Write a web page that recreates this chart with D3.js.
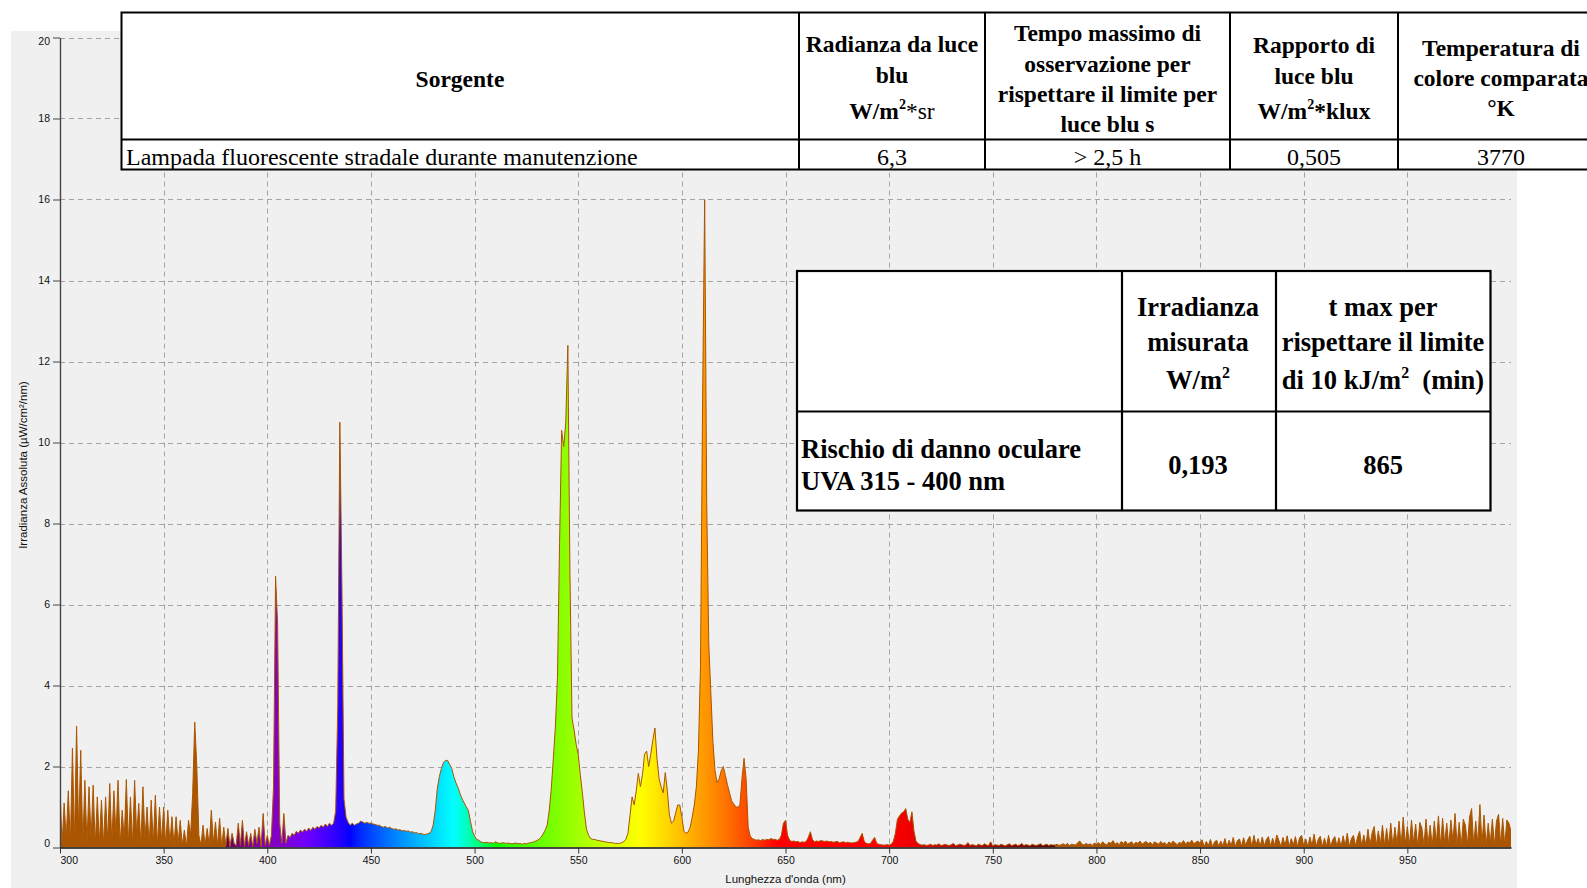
<!DOCTYPE html>
<html>
<head>
<meta charset="utf-8">
<script src="https://cdn.jsdelivr.net/npm/d3@7"></script>
<style>
  body { margin: 0; background: #fff; }
  svg { display: block; }
</style>
</head>
<body>
<svg id="chart" width="1587" height="888"></svg>
<script>
// ---- Spectral irradiance, µW/cm²/nm, 1 nm steps ----
// UV part, 300–379 nm
const uvStart = 300;
const uvBand = [
  1.45,0.05,1.1,0.2,1.4,0.1,2.45,0.15,3.0,0.4,
  2.4,0.05,1.66,0.1,1.5,0.2,1.54,0.05,1.25,0.1,
  1.17,0.05,1.25,0.15,1.58,0.1,1.4,0.3,1.66,0.05,
  0.92,0.2,1.68,0.1,1.25,0.05,1.66,0.3,1.09,0.05,
  1.5,0.2,1.0,0.05,1.17,0.1,1.29,0.05,1.0,0.15,
  1.0,0.05,0.92,0.1,0.76,0.05,0.76,0.1,0.67,0.05,
  0.43,0.02,0.67,0.3,1.33,3.1,2.0,0.3,0.05,0.55,
  0.05,0.47,0.05,0.92,0.1,0.63,0.05,0.72,0.02,0.5
];
// visible part, 380–779 nm
const visStart = 380;
const visBand = [
  0.05,0.47,0.02,0.35,0.1,0.05,0.6,0.05,0.67,0.02,
  0.39,0.05,0.35,0.02,0.45,0.1,0.5,0.02,0.84,0.05,
  0.3,0.05,0.3,1.5,6.7,5.5,0.6,0.1,0.84,0.1,
  0.3,0.25,0.35,0.3,0.4,0.35,0.43,0.38,0.45,0.4,
  0.48,0.42,0.5,0.45,0.52,0.48,0.55,0.5,0.58,0.52,
  0.6,0.55,0.6,0.9,3.5,10.5,6.5,1.2,0.75,0.62,
  0.55,0.6,0.55,0.58,0.6,0.65,0.63,0.6,0.62,0.6,
  0.6,0.58,0.57,0.55,0.55,0.52,0.5,0.52,0.48,0.5,
  0.47,0.45,0.46,0.43,0.44,0.41,0.42,0.4,0.41,0.38,
  0.39,0.36,0.37,0.34,0.35,0.33,0.32,0.33,0.35,0.39,
  0.55,0.9,1.45,1.75,1.95,2.1,2.15,2.15,2.05,1.95,
  1.75,1.6,1.48,1.33,1.2,1.1,1.0,0.92,0.65,0.4,
  0.28,0.2,0.18,0.14,0.12,0.12,0.13,0.11,0.12,0.1,
  0.14,0.12,0.1,0.11,0.12,0.1,0.11,0.1,0.09,0.1,
  0.11,0.09,0.1,0.08,0.1,0.09,0.11,0.12,0.13,0.15,
  0.17,0.2,0.25,0.33,0.42,0.55,0.9,1.45,2.2,3.0,
  4.2,7.5,10.3,9.9,10.5,12.4,6.8,3.2,2.9,2.55,
  2.3,1.8,1.35,0.85,0.45,0.3,0.22,0.2,0.2,0.18,
  0.17,0.16,0.15,0.14,0.13,0.12,0.12,0.11,0.1,0.1,
  0.1,0.12,0.15,0.2,0.35,0.8,1.25,1.05,1.4,1.83,
  1.5,1.8,2.3,2.38,2.0,2.3,2.65,2.95,2.2,1.7,
  1.5,1.35,1.85,1.4,0.8,0.6,0.65,0.85,1.05,1.05,
  0.75,0.4,0.35,0.38,0.5,0.75,1.05,1.5,2.4,4.5,
  11.0,16.0,8.5,5.0,3.8,2.6,1.9,1.6,1.7,1.9,
  2.0,1.78,1.55,1.35,1.15,1.08,1.0,1.0,1.05,1.7,
  2.2,1.7,0.5,0.28,0.22,0.2,0.18,0.19,0.17,0.2,
  0.18,0.2,0.19,0.22,0.2,0.2,0.18,0.2,0.3,0.6,
  0.67,0.3,0.18,0.15,0.16,0.14,0.15,0.12,0.14,0.13,
  0.15,0.25,0.39,0.2,0.14,0.16,0.15,0.17,0.16,0.15,
  0.16,0.14,0.15,0.13,0.14,0.15,0.12,0.13,0.14,0.12,
  0.13,0.12,0.11,0.12,0.13,0.15,0.25,0.35,0.15,0.1,
  0.09,0.1,0.18,0.25,0.1,0.08,0.07,0.06,0.06,0.07,
  0.06,0.08,0.15,0.35,0.7,0.78,0.85,0.88,0.96,0.7,
  0.62,0.88,0.4,0.15,0.1,0.07,0.06,0.07,0.05,0.06,
  0.08,0.05,0.07,0.06,0.09,0.05,0.06,0.08,0.06,0.05,
  0.07,0.1,0.05,0.06,0.08,0.07,0.05,0.06,0.12,0.05,
  0.07,0.06,0.04,0.08,0.06,0.05,0.09,0.06,0.05,0.14,
  0.04,0.07,0.06,0.05,0.08,0.06,0.04,0.07,0.09,0.05,
  0.06,0.08,0.05,0.06,0.1,0.05,0.07,0.06,0.04,0.08,
  0.06,0.05,0.07,0.09,0.05,0.06,0.08,0.05,0.07,0.06
];
// near infrared part, 780–1000 nm
const nirStart = 780;
const nirBand = [
  0.06,0.08,0.05,0.07,0.09,0.06,0.1,0.05,0.08,0.07,
  0.06,0.12,0.16,0.08,0.06,0.1,0.07,0.09,0.05,0.11,
  0.08,0.12,0.07,0.14,0.09,0.06,0.13,0.1,0.17,0.08,
  0.12,0.07,0.15,0.1,0.16,0.08,0.11,0.14,0.07,0.13,
  0.1,0.16,0.08,0.12,0.15,0.09,0.13,0.07,0.14,0.11,
  0.08,0.15,0.1,0.12,0.06,0.14,0.09,0.16,0.11,0.07,
  0.13,0.1,0.17,0.08,0.14,0.11,0.18,0.09,0.13,0.16,
  0.1,0.19,0.02,0.15,0.05,0.2,0.02,0.14,0.18,0.03,
  0.16,0.04,0.22,0.02,0.18,0.05,0.25,0.02,0.17,0.21,
  0.03,0.24,0.05,0.19,0.28,0.02,0.3,0.06,0.22,0.03,
  0.26,0.04,0.2,0.27,0.03,0.23,0.05,0.31,0.18,0.02,
  0.25,0.05,0.29,0.02,0.22,0.06,0.27,0.02,0.24,0.3,
  0.04,0.21,0.02,0.26,0.05,0.33,0.03,0.2,0.28,0.02,
  0.23,0.04,0.3,0.02,0.19,0.27,0.03,0.24,0.02,0.29,
  0.05,0.35,0.02,0.22,0.3,0.04,0.26,0.4,0.03,0.31,
  0.05,0.45,0.06,0.36,0.52,0.04,0.41,0.08,0.55,0.05,
  0.47,0.06,0.6,0.03,0.5,0.1,0.65,0.05,0.75,0.08,
  0.52,0.05,0.68,0.1,0.58,0.03,0.62,0.48,0.05,0.7,
  0.08,0.55,0.04,0.65,0.12,0.78,0.05,0.72,0.1,0.6,
  0.04,0.68,0.15,0.84,0.05,0.62,0.03,0.7,0.55,0.06,
  0.75,0.96,0.05,0.65,0.1,1.06,0.08,0.8,0.04,0.6,
  0.1,0.7,0.05,0.65,0.82,0.08,0.72,0.05,0.68,0.6,
  0.4
];

const xTicks = [300,350,400,450,500,550,600,650,700,750,800,850,900,950];
const yTicks = [0,2,4,6,8,10,12,14,16,18,20];
const xTitle = "Lunghezza d'onda (nm)";
const yTitle = "Irradianza Assoluta (µW/cm²/nm)";

// ---- table contents ----
const blueHeaders = [
  ["Sorgente"],
  ["Radianza da luce", "blu", [["W/m", "b"], ["2", "sup"], ["*sr", "r"]]],
  ["Tempo massimo di", "osservazione per", "rispettare il limite per", "luce blu s"],
  ["Rapporto di", "luce blu", [["W/m", "b"], ["2", "sup"], ["*klux", "b"]]],
  ["Temperatura di", "colore comparata", "°K"]
];
const blueRow = ["Lampada fluorescente stradale durante manutenzione", "6,3", "> 2,5 h", "0,505", "3770"];
const uvaHeaders = [
  [],
  ["Irradianza", "misurata", [["W/m", "b"], ["2", "sup"]]],
  ["t max per", "rispettare il limite", [["di 10 kJ/m", "b"], ["2", "sup"], ["  (min)", "b"]]]
];
const uvaRow = [["Rischio di danno oculare", "UVA 315 - 400 nm"], "0,193", "865"];

// ---- build series ----
const spectrum = []
  .concat(uvBand.map((v, i) => ({ w: uvStart + i, v })))
  .concat(visBand.map((v, i) => ({ w: visStart + i, v })))
  .concat(nirBand.map((v, i) => ({ w: nirStart + i, v })));

const svg = d3.select("#chart");
const x = d3.scaleLinear().domain([300, 1000]).range([60, 1511]);
const y = d3.scaleLinear().domain([0, 20]).range([847.5, 37.5]);

const brown = "#aa5500";
const sansFont = "'Liberation Sans', Arial, sans-serif";
const serifFont = "'Liberation Serif', 'Times New Roman', serif";

// panel background
svg.append("rect").attr("x", 11).attr("y", 31).attr("width", 1506).attr("height", 857).attr("fill", "#f0f0f0");

// colour of light at a given wavelength
function waveColor(w) {
  if (w < 380 || w > 780) return brown;
  let r, g, b;
  if (w < 440) { r = -(w - 440) / 60; g = 0; b = 1; }
  else if (w < 490) { r = 0; g = (w - 440) / 50; b = 1; }
  else if (w < 510) { r = 0; g = 1; b = -(w - 510) / 20; }
  else if (w < 580) { r = (w - 510) / 70; g = 1; b = 0; }
  else if (w < 645) { r = 1; g = -(w - 645) / 65; b = 0; }
  else { r = 1; g = 0; b = 0; }
  let f = 1;
  if (w < 420) f = 0.3 + 0.7 * (w - 380) / 40;
  else if (w > 700) f = 0.3 + 0.7 * (780 - w) / 80;
  const c = v => v <= 0 ? 0 : Math.round(255 * Math.pow(v * f, 0.8));
  return `rgb(${c(r)},${c(g)},${c(b)})`;
}

const defs = svg.append("defs");
const grad = defs.append("linearGradient").attr("id", "spectrum-fill")
  .attr("gradientUnits", "userSpaceOnUse")
  .attr("x1", x(300)).attr("x2", x(1000)).attr("y1", 0).attr("y2", 0);
const stopList = [[300, brown], [379.9, brown]];
for (let w = 380; w <= 780; w += 2) stopList.push([w, waveColor(w)]);
stopList.push([780.1, brown], [1000, brown]);
grad.selectAll("stop").data(stopList).join("stop")
  .attr("offset", d => (d[0] - 300) / 700)
  .attr("stop-color", d => d[1]);

defs.append("clipPath").attr("id", "plot-clip").append("rect")
  .attr("x", x(300)).attr("y", y(20) - 2).attr("width", x(1000) - x(300)).attr("height", y(0) - y(20) + 2);

// grid
const grid = svg.append("g").attr("stroke", "#a4a4a4").attr("stroke-width", 1).attr("stroke-dasharray", "5,4");
grid.selectAll("line.h").data(yTicks.filter(d => d > 0)).join("line").attr("class", "h")
  .attr("x1", x(300)).attr("x2", x(1000))
  .attr("y1", d => Math.round(y(d)) + 0.5).attr("y2", d => Math.round(y(d)) + 0.5);
grid.selectAll("line.v").data(xTicks.filter(d => d > 300)).join("line").attr("class", "v")
  .attr("x1", d => Math.round(x(d)) + 0.5).attr("x2", d => Math.round(x(d)) + 0.5)
  .attr("y1", y(20)).attr("y2", y(0));

// spectrum
const plot = svg.append("g").attr("clip-path", "url(#plot-clip)");
const area = d3.area().x(d => x(d.w)).y0(y(0)).y1(d => y(d.v));
const line = d3.line().x(d => x(d.w)).y(d => y(d.v));
plot.append("path").datum(spectrum).attr("d", area).attr("fill", "url(#spectrum-fill)");
plot.append("path").datum(spectrum).attr("d", line).attr("fill", "none")
  .attr("stroke", brown).attr("stroke-width", 1).attr("stroke-linejoin", "round");

// axes
const gy = svg.append("g").attr("transform", `translate(${x(300)},0)`)
  .call(d3.axisLeft(y).tickValues(yTicks).tickSize(7).tickSizeOuter(0).tickPadding(3).tickFormat(d3.format("d")));
gy.select(".domain").attr("stroke", "#454545").attr("stroke-width", 1.4);
gy.selectAll(".tick line").attr("stroke", "#454545");
gy.selectAll(".tick text").attr("font-family", sansFont).attr("font-size", 10.5).attr("fill", "#111");
gy.selectAll(".tick").filter(d => d === 20).select("text").attr("dy", "0.7em");
gy.selectAll(".tick").filter(d => d === 0).select("text").attr("dy", "-0.1em");

const gx = svg.append("g").attr("transform", `translate(0,${y(0)})`)
  .call(d3.axisBottom(x).tickValues(xTicks).tickSize(6).tickSizeOuter(0).tickPadding(3));
gx.select(".domain").attr("stroke", "#111").attr("stroke-width", 1.4);
gx.selectAll(".tick line").attr("stroke", "#333");
gx.selectAll(".tick text").attr("font-family", sansFont).attr("font-size", 10.5).attr("fill", "#111");
gx.selectAll(".tick").filter(d => d === 300).select("text").attr("text-anchor", "start").attr("x", 0);

svg.append("text").attr("x", (x(300) + x(1000)) / 2).attr("y", 883)
  .attr("text-anchor", "middle").attr("font-family", sansFont).attr("font-size", 11.5).attr("fill", "#111")
  .text(xTitle);
svg.append("text").attr("transform", "translate(27,465) rotate(-90)")
  .attr("text-anchor", "middle").attr("font-family", sansFont).attr("font-size", 11.5).attr("fill", "#111")
  .text(yTitle);

// ---- tables ----
function richText(parent, tx, ty, content, size, bold, anchor) {
  const t = parent.append("text").attr("x", tx).attr("y", ty)
    .attr("text-anchor", anchor || "middle").attr("font-family", serifFont)
    .attr("font-size", size).attr("font-weight", bold ? "bold" : "normal")
    .attr("fill", "#000").style("white-space", "pre");
  const segs = typeof content === "string" ? [[content, bold ? "b" : "r"]] : content;
  let raised = false;
  segs.forEach(([s, kind]) => {
    const sp = t.append("tspan").text(s);
    if (kind === "sup") {
      sp.attr("dy", -size * 0.42).attr("font-size", size * 0.6);
      raised = true;
    } else {
      if (raised) { sp.attr("dy", size * 0.42); raised = false; }
      sp.attr("font-weight", kind === "b" ? "bold" : "normal");
    }
  });
  return t;
}

const tables = svg.append("g");

// table 1
const t1 = tables.append("g");
const t1x = [121.5, 799, 985, 1230, 1398, 1620];
const t1top = 12.5, t1mid = 139.5, t1bot = 169.5;
t1.append("rect").attr("x", t1x[0]).attr("y", t1top).attr("width", t1x[5] - t1x[0]).attr("height", t1bot - t1top)
  .attr("fill", "#fff").attr("stroke", "#000").attr("stroke-width", 2);
t1.append("line").attr("x1", t1x[0]).attr("x2", t1x[5]).attr("y1", t1mid).attr("y2", t1mid).attr("stroke", "#000").attr("stroke-width", 2);
t1.selectAll("line.c").data(t1x.slice(1, 5)).join("line").attr("class", "c")
  .attr("x1", d => d).attr("x2", d => d).attr("y1", t1top).attr("y2", t1bot).attr("stroke", "#000").attr("stroke-width", 2);
const t1Centers = [460, 892, 1107.5, 1314, 1501];
const t1Baselines = [
  [87],
  [52, 83, 119],
  [41, 71.5, 102, 132],
  [53, 84, 119],
  [55.5, 85.5, 115.5]
];
blueHeaders.forEach((lines, c) => {
  lines.forEach((ln, i) => richText(t1, t1Centers[c], t1Baselines[c][i], ln, 23.5, true));
});
richText(t1, 126, 165, blueRow[0], 24, false, "start");
blueRow.slice(1).forEach((v, i) => richText(t1, t1Centers[i + 1], 165, v, 24, false));

// table 2
const t2 = tables.append("g");
const t2x = [797, 1122, 1276, 1490.5];
const t2top = 271, t2mid = 411.5, t2bot = 510.5;
t2.append("rect").attr("x", t2x[0]).attr("y", t2top).attr("width", t2x[3] - t2x[0]).attr("height", t2bot - t2top)
  .attr("fill", "#fff").attr("stroke", "#000").attr("stroke-width", 2.2);
t2.append("line").attr("x1", t2x[0]).attr("x2", t2x[3]).attr("y1", t2mid).attr("y2", t2mid).attr("stroke", "#000").attr("stroke-width", 2.2);
t2.selectAll("line.c").data(t2x.slice(1, 3)).join("line").attr("class", "c")
  .attr("x1", d => d).attr("x2", d => d).attr("y1", t2top).attr("y2", t2bot).attr("stroke", "#000").attr("stroke-width", 2.2);
const t2Centers = [0, 1198, 1383];
const t2Baselines = [315.5, 350.5, 389];
uvaHeaders.forEach((lines, c) => {
  lines.forEach((ln, i) => richText(t2, t2Centers[c], t2Baselines[i], ln, 26.5, true));
});
uvaRow[0].forEach((ln, i) => richText(t2, 801, [457.5, 490][i], ln, 26.5, true, "start"));
richText(t2, t2Centers[1], 473.5, uvaRow[1], 26.5, true);
richText(t2, t2Centers[2], 473.5, uvaRow[2], 26.5, true);
</script>
</body>
</html>
